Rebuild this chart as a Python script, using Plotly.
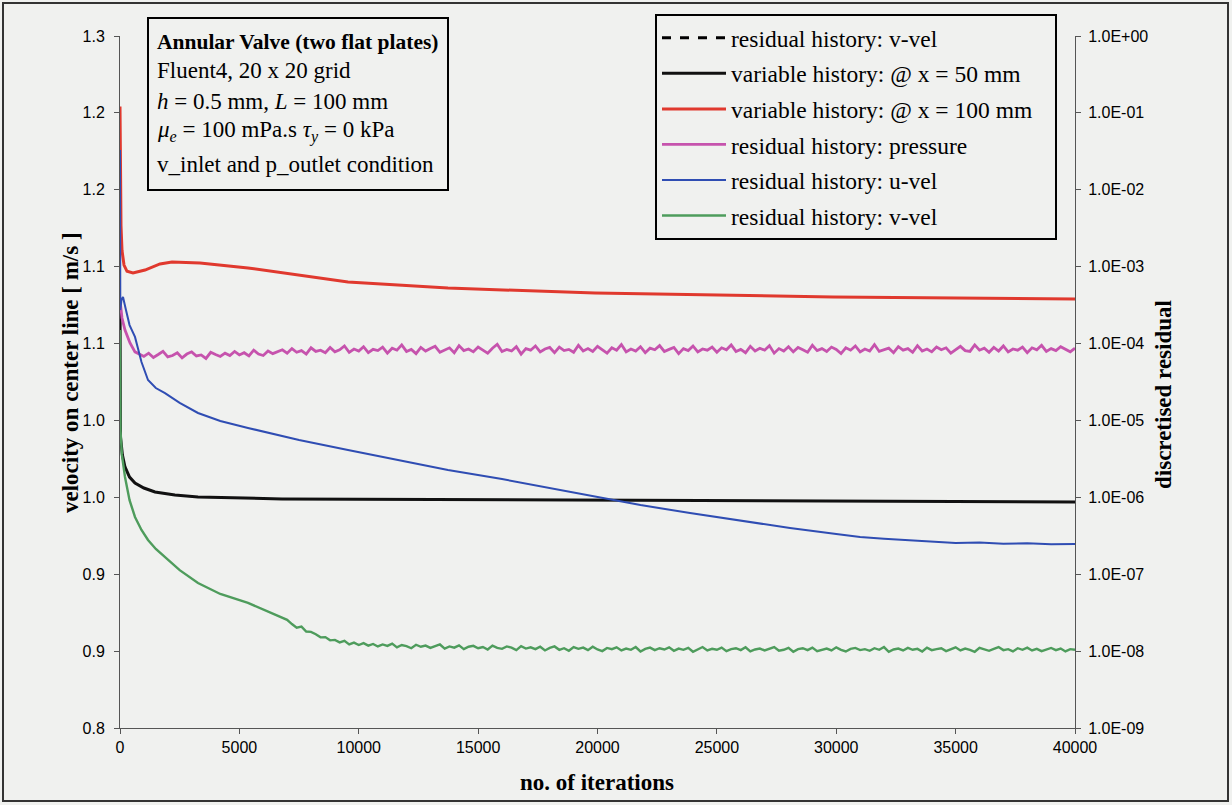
import plotly.graph_objects as go

# ---------------- data ----------------
# velocity at x = 100 mm (left axis)
red_x = [0, 21, 42, 84, 168, 293, 544, 1047, 1675, 2178, 3351, 5361, 7539, 9549, 13737, 19895, 29864, 40000]
red_v = [1.249, 1.196, 1.163, 1.145, 1.1345, 1.130, 1.1288, 1.1309, 1.1353, 1.1367, 1.1360, 1.1324,
         1.1273, 1.1223, 1.1179, 1.1143, 1.1114, 1.1100]

# velocity at x = 50 mm (left axis)
blk_x = [0, 8, 21, 100, 209, 400, 628, 1000, 1466, 2300, 3267, 6785, 19895, 40000]
blk_v = [1.1092, 1.0514, 1.0102, 0.9973, 0.9886, 0.9813, 0.9770, 0.9734, 0.9705, 0.9683, 0.9669,
         0.9655, 0.9647, 0.9633]

# u-vel residual (right axis)
blue_x = [0, 13, 60, 126, 250, 400, 628, 900, 1173, 1500, 1885, 2500, 3267, 4200, 5361, 7500, 9549,
          11600, 13737, 16000, 18000, 19686, 21800, 23874, 26000, 28062, 30000, 31000, 32000, 33000,
          34000, 35000, 36000, 37000, 38000, 39000, 40000]
blue_r = [3.29e-2, 2.73e-4, 3.68e-4, 4.03e-4, 2.73e-4, 1.74e-4, 1.22e-4, 5.75e-5, 3.36e-5, 2.64e-5,
          2.27e-5, 1.69e-5, 1.25e-5, 9.84e-6, 7.98e-6, 5.57e-6, 4.13e-6, 3.06e-6, 2.27e-6, 1.73e-6,
          1.32e-6, 1.04e-6, 7.94e-7, 6.25e-7, 4.92e-7, 3.99e-7, 3.33e-7, 3.05e-7, 2.90e-7, 2.78e-7,
          2.66e-7, 2.55e-7, 2.58e-7, 2.49e-7, 2.53e-7, 2.45e-7, 2.47e-7]

# pressure residual (right axis): start-up part, then every 200 iterations
pink_head_x = [0, 84, 209, 419, 628]
pink_head_r = [3.7e-4, 2.15e-4, 1.5e-4, 1.02e-4, 7.8e-5]
pink_tail_e5 = [
    7.4, 6.8, 7.5, 6.6, 7.2, 7.9, 6.7, 7.0, 7.6, 6.5,
    7.3, 7.8, 6.9, 7.1, 6.4, 7.7, 7.2, 6.8, 7.5, 7.0,
    7.9, 7.1, 7.6, 6.9, 8.2, 7.3, 7.0, 8.0, 7.4, 7.8,
    8.3, 7.5, 8.6, 7.7, 8.1, 7.3, 8.8, 7.9, 8.2, 7.6,
    8.9, 7.8, 8.3, 9.3, 7.7, 8.5, 8.0, 9.1, 7.6, 8.4,
    8.1, 9.0, 7.5, 8.7, 8.2, 9.6, 7.9, 8.4, 7.4, 8.9,
    8.0, 8.6, 9.2, 7.7, 8.3, 8.8, 7.6, 9.4, 8.1, 8.5,
    7.8, 9.0, 8.2, 7.5, 8.7, 9.8, 7.9, 8.4, 8.0, 9.1,
    7.3, 8.6, 8.2, 9.3, 7.8, 8.5, 8.9, 7.6, 9.0, 8.1,
    8.4, 7.7, 9.5, 8.0, 8.6, 7.9, 9.2, 8.3, 7.5, 8.8,
    8.2, 9.7, 7.8, 8.5, 8.0, 9.1, 7.6, 8.7, 8.3, 9.4,
    7.9, 8.4, 8.9, 7.4, 8.6, 8.1, 9.3, 7.8, 8.5, 8.2,
    9.0, 7.7, 8.8, 8.3, 9.6, 7.9, 8.4, 7.6, 9.2, 8.0,
    8.7, 8.2, 9.4, 7.5, 8.6, 8.0, 9.1, 7.8, 8.9, 8.3,
    7.7, 9.5, 8.1, 8.6, 7.9, 9.0, 8.4, 7.4, 8.8, 8.2,
    9.3, 7.8, 8.5, 8.0, 9.7, 7.9, 8.3, 8.7, 7.6, 9.1,
    8.2, 8.6, 7.7, 9.4, 8.0, 8.5, 7.8, 9.0, 8.3, 8.8,
    7.5, 8.4, 9.2, 8.1, 7.9, 9.6, 8.2, 8.7, 7.7, 8.9,
    8.0, 9.3, 7.8, 8.5, 8.2, 9.0, 7.6, 8.8, 8.3, 9.5,
    7.9, 8.6, 8.1, 9.1, 8.4, 7.8, 8.7]
pink_tail_x = list(range(800, 40001, 200))

# v-vel residual (right axis): decay part, then every 200 iterations
green_head_x = [0, 21, 80, 209, 400, 628, 900, 1173, 1500, 1885, 2500, 3267, 4200, 5361, 6400, 7000]
green_head_r = [1.5e-4, 7.52e-6, 3.56e-6, 1.84e-6, 9.2e-7, 5.55e-7, 3.76e-7, 2.79e-7, 2.13e-7,
                1.67e-7, 1.13e-7, 7.69e-8, 5.53e-8, 4.23e-8, 3.05e-8, 2.55e-8]
green_tail_e8 = [
    2.25, 2.02, 2.08, 1.80, 1.78, 1.66, 1.51, 1.52, 1.38, 1.40,
    1.30, 1.36, 1.22, 1.29, 1.20, 1.27, 1.18, 1.24, 1.15, 1.22,
    1.17, 1.25, 1.12, 1.20, 1.16, 1.09, 1.21, 1.14, 1.18, 1.10,
    1.16, 1.22, 1.08, 1.15, 1.11, 1.19, 1.06, 1.14, 1.17, 1.09,
    1.13, 1.05, 1.18, 1.10, 1.07, 1.15, 1.11, 1.03, 1.16, 1.08,
    1.12, 1.06, 1.14, 1.02, 1.10, 1.15, 1.04, 1.09, 1.01, 1.13,
    1.07, 1.11, 1.03, 1.14, 1.05, 1.00, 1.10, 1.06, 1.12, 1.02,
    1.08, 1.04, 1.13, 0.99, 1.07, 1.11, 1.03, 1.09, 1.05, 1.12,
    1.01, 1.08, 1.04, 1.10, 0.98, 1.06, 1.13, 1.02, 1.07, 1.04,
    1.11, 1.00, 1.06, 1.09, 1.03, 1.12, 0.99, 1.05, 1.08, 1.02,
    1.07, 1.13, 1.01, 1.04, 1.10, 0.98, 1.06, 1.09, 1.03, 1.11,
    1.00, 1.05, 1.08, 1.02, 1.12, 1.04, 0.99, 1.07, 1.10, 1.03,
    1.06, 1.01, 1.09, 1.04, 1.13, 0.98, 1.05, 1.08, 1.02, 1.10,
    1.04, 1.07, 0.99, 1.11, 1.03, 1.06, 1.09, 1.00, 1.05, 1.12,
    1.02, 1.08, 1.04, 0.98, 1.10, 1.05, 1.01, 1.07, 1.13, 1.03,
    1.06, 0.99, 1.09, 1.04, 1.11, 1.02, 1.07, 1.00, 1.05, 1.10,
    1.03, 1.08, 0.99, 1.06, 1.04]
green_tail_x = list(range(7200, 40001, 200))

res_tickvals = [1e-9, 1e-8, 1e-7, 1e-6, 1e-5, 1e-4, 1e-3, 1e-2, 1e-1, 1e0]
res_ticktext = ["1.0E-09", "1.0E-08", "1.0E-07", "1.0E-06", "1.0E-05", "1.0E-04",
                "1.0E-03", "1.0E-02", "1.0E-01", "1.0E+00"]

# ---------------- figure ----------------
pink_x = pink_head_x + pink_tail_x
pink_r = pink_head_r + [v * 1e-5 for v in pink_tail_e5]
green_x = green_head_x + green_tail_x
green_r = green_head_r + [v * 1e-8 for v in green_tail_e8]

SERIF = "Liberation Serif, Times New Roman, serif"
SANS = "Liberation Sans, Arial, sans-serif"
BG = "#f0f1ef"
NB = "\u00a0"

fig = go.Figure()
fig.add_trace(go.Scatter(x=[None], y=[None], mode="lines", name="residual history: v-vel",
                         line=dict(color="black", width=3, dash="dash"), yaxis="y2",
                         legendgroup="g0"))
fig.add_trace(go.Scatter(x=blk_x, y=blk_v, mode="lines", name="variable history: @ x = 50 mm",
                         line=dict(color="#111111", width=3), legendgroup="g1"))
fig.add_trace(go.Scatter(x=red_x, y=red_v, mode="lines", name="variable history: @ x = 100 mm" + NB * 3,
                         line=dict(color="#e0392e", width=3), legendgroup="g2"))
fig.add_trace(go.Scatter(x=pink_x, y=pink_r, mode="lines", name="residual history: pressure",
                         line=dict(color="#c653ad", width=2.8), yaxis="y2", legendgroup="g3"))
fig.add_trace(go.Scatter(x=blue_x, y=blue_r, mode="lines", name="residual history: u-vel",
                         line=dict(color="#2f4db3", width=2), yaxis="y2", legendgroup="g4"))
fig.add_trace(go.Scatter(x=green_x, y=green_r, mode="lines", name="residual history: v-vel",
                         line=dict(color="#4e9c5c", width=2.4), yaxis="y2", legendgroup="g5"))

L, R, T, B = 120, 157, 36, 77
W, H = 1232, 805
pw, ph = W - L - R, H - T - B

def px(xp):
    return (xp - L) / pw

def py(yp):
    return (H - B - yp) / ph

ann_lines = [
    ("<b>Annular Valve (two flat plates)</b>", 42, 21.5),
    ("Fluent4, 20 x 20 grid", 71, 23),
    ("<i>h</i> = 0.5 mm, <i>L</i> = 100 mm", 101, 23),
    ("<i>μ</i><sub><i>e</i></sub> = 100 mPa.s <i>τ</i><sub><i>y</i></sub> = 0 kPa", 131, 23),
    ("v_inlet and p_outlet condition", 164, 23),
]
annotations = []
for txt, yc, fs in ann_lines:
    annotations.append(dict(text=txt, xref="paper", yref="paper", x=px(155), y=py(yc),
                            xanchor="left", yanchor="middle", showarrow=False,
                            font=dict(family=SERIF, size=fs, color="black"), align="left"))

TITLE_FONT = dict(family=SERIF, size=23, color="black")
annotations += [
    dict(text="<b>no. of iterations</b>", xref="paper", yref="paper", x=px(597), y=py(782),
         xanchor="center", yanchor="middle", showarrow=False, font=TITLE_FONT),
    dict(text="<b>velocity on center line [ m/s ]</b>", xref="paper", yref="paper", x=px(70), y=py(373),
         xanchor="center", yanchor="middle", showarrow=False, textangle=-90, font=TITLE_FONT),
    dict(text="<b>discretised residual</b>", xref="paper", yref="paper", x=px(1163), y=py(395),
         xanchor="center", yanchor="middle", showarrow=False, textangle=-90, font=TITLE_FONT),
]

shapes = [
    dict(type="rect", xref="paper", yref="paper", x0=px(148), x1=px(448), y0=py(190), y1=py(18),
         line=dict(color="black", width=2), fillcolor=BG, layer="above"),
    dict(type="rect", xref="paper", yref="paper", x0=px(3), x1=px(1228), y0=py(801), y1=py(3),
         line=dict(color="#333333", width=2), layer="below"),
]

AX = dict(showgrid=False, zeroline=False, showline=True, linecolor="#555555", linewidth=1,
          ticks="outside", ticklen=5, tickcolor="#555555",
          tickfont=dict(family=SANS, size=16, color="black"))

fig.update_layout(
    width=W, height=H,
    margin=dict(l=L, r=R, t=T, b=B),
    paper_bgcolor=BG, plot_bgcolor=BG,
    showlegend=True,
    legend=dict(x=px(655), y=py(14), xanchor="left", yanchor="top",
                bordercolor="black", borderwidth=2, bgcolor=BG,
                font=dict(family=SERIF, size=23.5, color="black"),
                tracegroupgap=2, itemwidth=64, traceorder="grouped"),
    xaxis=dict(range=[0, 40000], dtick=5000, tick0=0, tickformat="d", **AX),
    yaxis=dict(range=[0.8, 1.3], tickmode="linear", tick0=0.8, dtick=0.5 / 9, tickformat=".1f",
               ticklabelstandoff=6, **AX),
    yaxis2=dict(type="log", range=[-9, 0], overlaying="y", side="right",
                tickmode="array", tickvals=res_tickvals, ticktext=res_ticktext,
                ticklabelstandoff=4, **AX),
    annotations=annotations,
    shapes=shapes,
)

fig.write_html("out.html")
